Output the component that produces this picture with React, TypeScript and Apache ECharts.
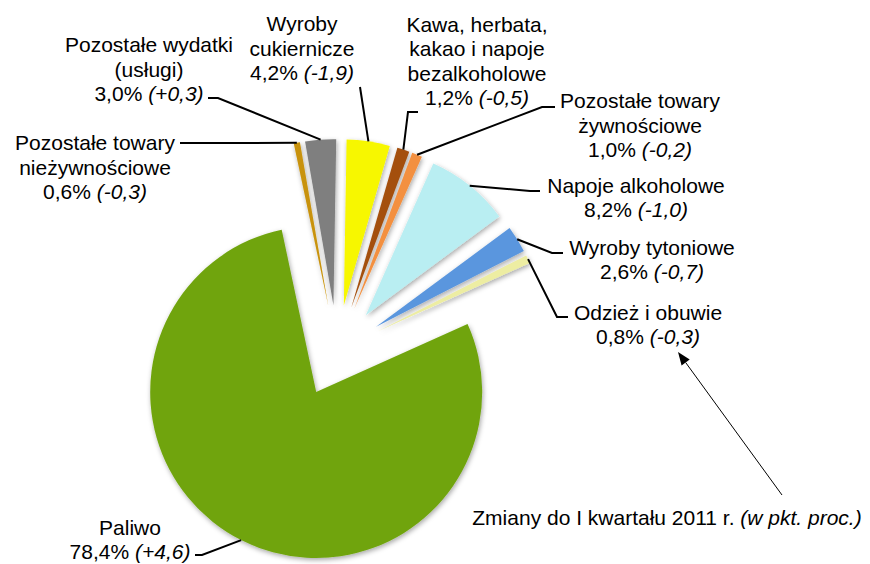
import React, { useEffect, useRef } from "react";
import * as echarts from "echarts";

const categories = [
  "Pozostałe towary\nnieżywnościowe",
  "Pozostałe wydatki\n(usługi)",
  "Wyroby\ncukiernicze",
  "Kawa, herbata,\nkakao i napoje\nbezalkoholowe",
  "Pozostałe towary\nżywnościowe",
  "Napoje alkoholowe",
  "Wyroby tytoniowe",
  "Odzież i obuwie",
  "Paliwo",
];
const shares = [0.6, 3.0, 4.2, 1.2, 1.0, 8.2, 2.6, 0.8, 78.4];
const changes = [-0.3, 0.3, -1.9, -0.5, -0.2, -1.0, -0.7, -0.3, 4.6];
const noteText = "Zmiany do I kwartału 2011 r. ";
const noteItalic = "(w pkt. proc.)";

const colors = [
  "#C8920A",
  "#7F7F7F",
  "#F7F700",
  "#A4500F",
  "#F39040",
  "#B9EEF2",
  "#5A96DE",
  "#EDEDA2",
  "#6FA40B",
];

// layout constants
const CX = 337;
const CY = 351;
const R = 166;
const OFFSET = 46;
const START = -12; // degrees clockwise from 12 o'clock

// label block centres and leader-line bends (after the slice anchor)
const labelPos = [
  { x: 95, y: 167, line: [[180, 143]] },
  { x: 149, y: 69, line: [[218, 98], [208, 98]] },
  { x: 302, y: 48, line: [[360, 87]] },
  { x: 477, y: 61, line: [[408, 112], [418, 112]] },
  { x: 640, y: 125, line: [[542, 107], [555, 107]] },
  { x: 636, y: 197.5, line: [[530, 191], [540, 191]] },
  { x: 652, y: 259.5, line: [[552, 253], [563, 253]] },
  { x: 648, y: 324.5, line: [[557, 317], [568, 317]] },
  { x: 130, y: 539.5, line: [[202, 555], [195, 555]] },
];

const fmt = (v: number) => v.toFixed(1).replace(".", ",");
const fmtSigned = (v: number) => (v > 0 ? "+" : "") + fmt(v);

export default function App() {
  const ref = useRef<HTMLDivElement>(null);
  useEffect(() => {
    if (!ref.current) return;
    const chart = echarts.init(ref.current, null, { renderer: "svg" });
    const total = shares.reduce((a, b) => a + b, 0);
    const font = "Liberation Sans, Arial, sans-serif";
    const FS = 21;
    const LH = 24.5;

    const graphics: any[] = [];
    let cum = 0;
    shares.forEach((v, i) => {
      const a0 = START + (cum / total) * 360;
      cum += v;
      const a1 = START + (cum / total) * 360;
      const mid = ((a0 + a1) / 2) * (Math.PI / 180);
      const dx = Math.sin(mid);
      const dy = -Math.cos(mid);
      const sx = CX + OFFSET * dx + R * dx;
      const sy = CY + OFFSET * dy + R * dy;
      const lp = labelPos[i];
      graphics.push({
        type: "polyline",
        shape: { points: [[sx, sy], ...lp.line] },
        style: { stroke: "#000", lineWidth: 2, fill: null },
        z: 10,
      });
      const nameLines = categories[i]
        .split("\n")
        .map((s) => `{n|${s}}`)
        .join("\n");
      const text = `${nameLines}\n{n|${fmt(v)}% }{i|(${fmtSigned(changes[i])})}`;
      graphics.push({
        type: "text",
        x: lp.x,
        y: lp.y,
        z: 11,
        style: {
          text,
          align: "center",
          verticalAlign: "middle",
          fill: "#000",
          font: `${FS}px ${font}`,
          rich: {
            n: { fontSize: FS, fontFamily: font, lineHeight: LH, fill: "#000", align: "center" },
            i: { fontSize: FS, fontFamily: font, fontStyle: "italic", lineHeight: LH, fill: "#000", align: "center" },
          },
        },
      });
    });

    // note with arrow
    graphics.push({
      type: "text",
      x: 667,
      y: 517,
      z: 11,
      style: {
        text: `{n|${noteText}}{i|${noteItalic}}`,
        align: "center",
        verticalAlign: "middle",
        fill: "#000",
        font: `${FS}px ${font}`,
        rich: {
          n: { fontSize: FS, fontFamily: font, fill: "#000" },
          i: { fontSize: FS, fontFamily: font, fontStyle: "italic", fill: "#000" },
        },
      },
    });
    const tail = [782, 495];
    const tip = [678, 352];
    const ux0 = tip[0] - tail[0];
    const uy0 = tip[1] - tail[1];
    const len = Math.hypot(ux0, uy0);
    const ux = ux0 / len;
    const uy = uy0 / len;
    const hl = 13;
    const hw = 5;
    const bx = tip[0] - hl * ux;
    const by = tip[1] - hl * uy;
    graphics.push({
      type: "line",
      shape: { x1: tail[0], y1: tail[1], x2: bx, y2: by },
      style: { stroke: "#000", lineWidth: 1 },
      z: 10,
    });
    graphics.push({
      type: "polygon",
      shape: {
        points: [
          [tip[0], tip[1]],
          [bx - uy * hw, by + ux * hw],
          [bx + uy * hw, by - ux * hw],
        ],
      },
      style: { fill: "#000" },
      z: 10,
    });

    chart.setOption({
      animation: false,
      backgroundColor: "#fff",
      series: [
        {
          type: "pie",
          center: [CX, CY],
          radius: R,
          startAngle: 90 - START,
          clockwise: true,
          selectedMode: "multiple",
          selectedOffset: OFFSET,
          avoidLabelOverlap: false,
          silent: true,
          label: { show: false },
          labelLine: { show: false },
          emphasis: { disabled: true },
          itemStyle: {
            shadowBlur: 5,
            shadowColor: "rgba(0,0,0,0.35)",
            shadowOffsetX: 1,
            shadowOffsetY: 2,
          },
          data: shares.map((v, i) => ({
            name: categories[i],
            value: v,
            selected: true,
            itemStyle: { color: colors[i] },
            select: { itemStyle: { color: colors[i] } },
          })),
        },
      ],
      graphic: graphics,
    });
    return () => chart.dispose();
  }, []);
  return (
    <div
      ref={ref}
      style={{ position: "absolute", left: 0, top: 0, width: 870, height: 564 }}
    />
  );
}
